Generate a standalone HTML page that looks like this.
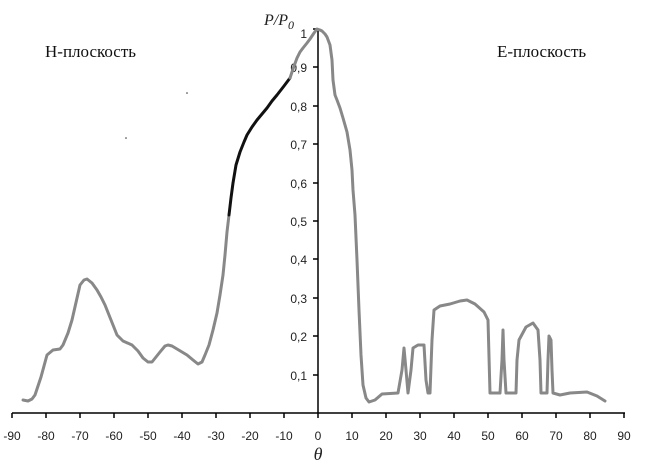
<!DOCTYPE html>
<html><head><meta charset="utf-8"><style>
html,body{margin:0;padding:0;background:#fff;}
svg{display:block;}
text{font-family:"Liberation Sans",sans-serif;font-size:12px;fill:#222;}
.s{font-family:"Liberation Serif",serif;font-size:17px;fill:#111;}
</style></head><body>
<svg width="650" height="470" viewBox="0 0 650 470">
<line x1="12" y1="413" x2="625" y2="413" stroke="#000" stroke-width="1.5"/>
<line x1="318" y1="29" x2="318" y2="413" stroke="#000" stroke-width="1.5"/>
<g stroke="#000" stroke-width="1.5">
<line x1="12" y1="413" x2="12" y2="418"/><line x1="46" y1="413" x2="46" y2="418"/><line x1="80" y1="413" x2="80" y2="418"/><line x1="114" y1="413" x2="114" y2="418"/><line x1="148" y1="413" x2="148" y2="418"/><line x1="182" y1="413" x2="182" y2="418"/><line x1="216" y1="413" x2="216" y2="418"/><line x1="250" y1="413" x2="250" y2="418"/><line x1="284" y1="413" x2="284" y2="418"/><line x1="318" y1="413" x2="318" y2="418"/><line x1="352" y1="413" x2="352" y2="418"/><line x1="386" y1="413" x2="386" y2="418"/><line x1="420" y1="413" x2="420" y2="418"/><line x1="454" y1="413" x2="454" y2="418"/><line x1="488" y1="413" x2="488" y2="418"/><line x1="522" y1="413" x2="522" y2="418"/><line x1="556" y1="413" x2="556" y2="418"/><line x1="590" y1="413" x2="590" y2="418"/><line x1="624" y1="413" x2="624" y2="418"/>
<line x1="313" y1="29" x2="318" y2="29"/><line x1="313" y1="67" x2="318" y2="67"/><line x1="313" y1="106" x2="318" y2="106"/><line x1="313" y1="144" x2="318" y2="144"/><line x1="313" y1="183" x2="318" y2="183"/><line x1="313" y1="221" x2="318" y2="221"/><line x1="313" y1="259" x2="318" y2="259"/><line x1="313" y1="298" x2="318" y2="298"/><line x1="313" y1="336" x2="318" y2="336"/><line x1="313" y1="375" x2="318" y2="375"/>
</g>
<g text-anchor="middle">
<text x="12" y="440">-90</text><text x="46" y="440">-80</text><text x="80" y="440">-70</text><text x="114" y="440">-60</text><text x="148" y="440">-50</text><text x="182" y="440">-40</text><text x="216" y="440">-30</text><text x="250" y="440">-20</text><text x="284" y="440">-10</text><text x="318" y="440">0</text><text x="352" y="440">10</text><text x="386" y="440">20</text><text x="420" y="440">30</text><text x="454" y="440">40</text><text x="488" y="440">50</text><text x="522" y="440">60</text><text x="556" y="440">70</text><text x="590" y="440">80</text><text x="624" y="440">90</text>
</g>
<g text-anchor="end">
<text x="307" y="38">1</text><text x="307" y="72">0,9</text><text x="307" y="111">0,8</text><text x="307" y="149">0,7</text><text x="307" y="188">0,6</text><text x="307" y="226">0,5</text><text x="307" y="264">0,4</text><text x="307" y="303">0,3</text><text x="307" y="341">0,2</text><text x="307" y="380">0,1</text>
</g>
<text x="264" y="25" style="font-family:'Liberation Serif',serif;font-style:italic;font-size:16px">P/P<tspan font-size="12" dy="4">0</tspan></text>
<text x="318" y="460" text-anchor="middle" style="font-family:'Liberation Serif',serif;font-style:italic;font-size:18px">θ</text>
<text class="s" x="45" y="57">Н-плоскость</text>
<text class="s" x="497" y="57">Е-плоскость</text>
<circle cx="187" cy="93" r="0.8" fill="#333"/><circle cx="126" cy="138" r="0.8" fill="#333"/>
<polyline fill="none" stroke="#888" stroke-width="3" stroke-linejoin="round" stroke-linecap="round" points="
23,400 28,401 32,399 35,395 41,377 47,355 53,350 60,349 63,345 68,333 72,320 80,285 84,280 87,279 92,283 97,290 101,297 105,305 111,320 117,335 123,341 132,345 138,351 143,358 148,362 152,362 156,357 160,352 165,346 168,345 172,346 177,349 187,355 193,360 198,364 202,362 205,355 209,345 213,330 217,313 220,295 223,275 225,255 227,232 229,215"/>
<polyline fill="none" stroke="#111" stroke-width="3" stroke-linejoin="round" stroke-linecap="round" points="
229,215 231,198 233,183 236,165 240,152 244,142 247,135 252,127 257,120 262,114 267,108 272,101 277,95 284,86 290,78"/>
<polyline fill="none" stroke="#888" stroke-width="3" stroke-linejoin="round" stroke-linecap="round" points="
290,78 293,69 297,58 300,52 303,48 307,43 310,39 314,33 317,29 320,30 322,31 325,34 327,37 330,45 332,60 333,80 335,95 337,100 340,108 343,118 347,132 350,150 352,170 353,190 355,215 357,260 359,310 361,355 363,385 366,398 369,402 375,400 382,394 398,393 402,370 404,348 406,370 408,393 411,370 413,348 418,345 424,345 426,380 428,393 430,393 432,340 434,310 440,306 450,304 460,301 467,300 475,304 484,312 488,320 490,393 500,393 502,360 503,330 504,360 506,393 516,393 517,360 519,340 526,327 533,323 538,330 540,360 541,393 547,393 548,360 549,336 551,340 552,370 553,393 560,395 570,393 587,392 597,396 605,401"/>
</svg>
</body></html>
